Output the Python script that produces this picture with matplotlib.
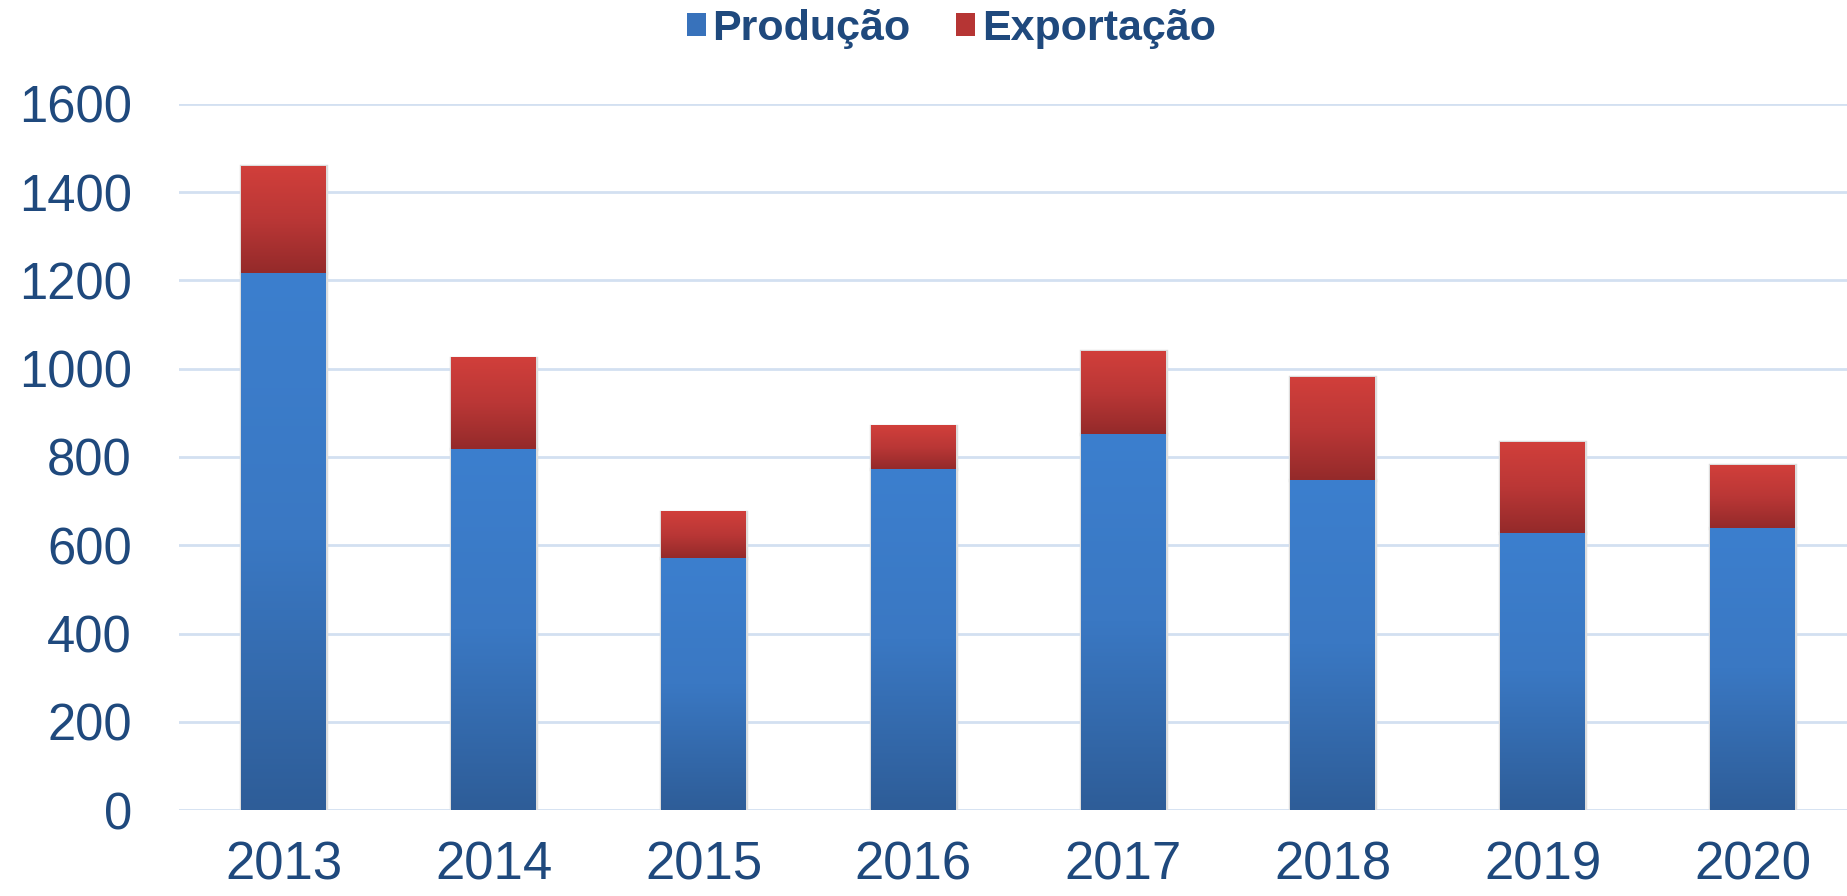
import matplotlib.pyplot as plt
import numpy as np
from matplotlib.colors import LinearSegmentedColormap
from matplotlib.patches import Patch

# Produção e exportação por ano
anos = ['2013', '2014', '2015', '2016', '2017', '2018', '2019', '2020']
producao = [1218, 817, 570, 772, 853, 749, 627, 640]
exportacao = [242, 208, 106, 99, 188, 233, 206, 141]
yticks = [0, 200, 400, 600, 800, 1000, 1200, 1400, 1600]

txt_color = '#1F497D'
blue_grad = LinearSegmentedColormap.from_list('b', ['#2E5D98', '#3A78C3', '#3C7FCE'])
red_grad = LinearSegmentedColormap.from_list('r', ['#942A2A', '#BA3736', '#D13F3B'])

plt.rcParams['font.family'] = ['Liberation Sans', 'DejaVu Sans']

fig = plt.figure(figsize=(18.47, 8.96), dpi=100)
ax = fig.add_axes([179 / 1847, 86 / 896, 1 - 179 / 1847, 706 / 896])

x = np.arange(len(anos))
w = 0.405
b1 = ax.bar(x, producao, w, color='none', edgecolor='#dddddd', linewidth=2.5, zorder=2)
b2 = ax.bar(x, exportacao, w, bottom=producao, color='none', edgecolor='#dddddd',
            linewidth=2.5, zorder=2)

grad = np.linspace(0, 1, 256).reshape(-1, 1)
for bars, cmap in [(b1, blue_grad), (b2, red_grad)]:
    for p in bars:
        x0, y0 = p.get_x(), p.get_y()
        ax.imshow(grad, extent=[x0, x0 + p.get_width(), y0, y0 + p.get_height()],
                  origin='lower', aspect='auto', cmap=cmap, zorder=3, interpolation='bicubic')

ax.set_xlim(-0.5, 7.45)
ax.set_ylim(0, 1600)
ax.set_yticks(yticks)
ax.set_xticks(x)
ax.set_xticklabels(anos)
ax.yaxis.grid(True, color='#D3E0F1', linewidth=2, zorder=0)
ax.set_axisbelow(True)
for s in ax.spines.values():
    s.set_visible(False)
ax.tick_params(axis='both', length=0, colors=txt_color)
ax.tick_params(axis='x', pad=22, labelsize=38)
ax.tick_params(axis='y', pad=34, labelsize=36.5)

handles = [Patch(facecolor='#3872BB', label='Produção'),
           Patch(facecolor='#B63534', label='Exportação')]
leg = fig.legend(handles=handles, loc='center', bbox_to_anchor=(0.515, 1 - 29 / 896),
                 ncol=2, frameon=False, prop={'size': 31, 'weight': 'bold'},
                 handlelength=0.45, handleheight=0.45, handletextpad=0.15,
                 columnspacing=1.05, borderpad=0)
for t in leg.get_texts():
    t.set_color(txt_color)

fig.savefig('out.png', dpi=100)
